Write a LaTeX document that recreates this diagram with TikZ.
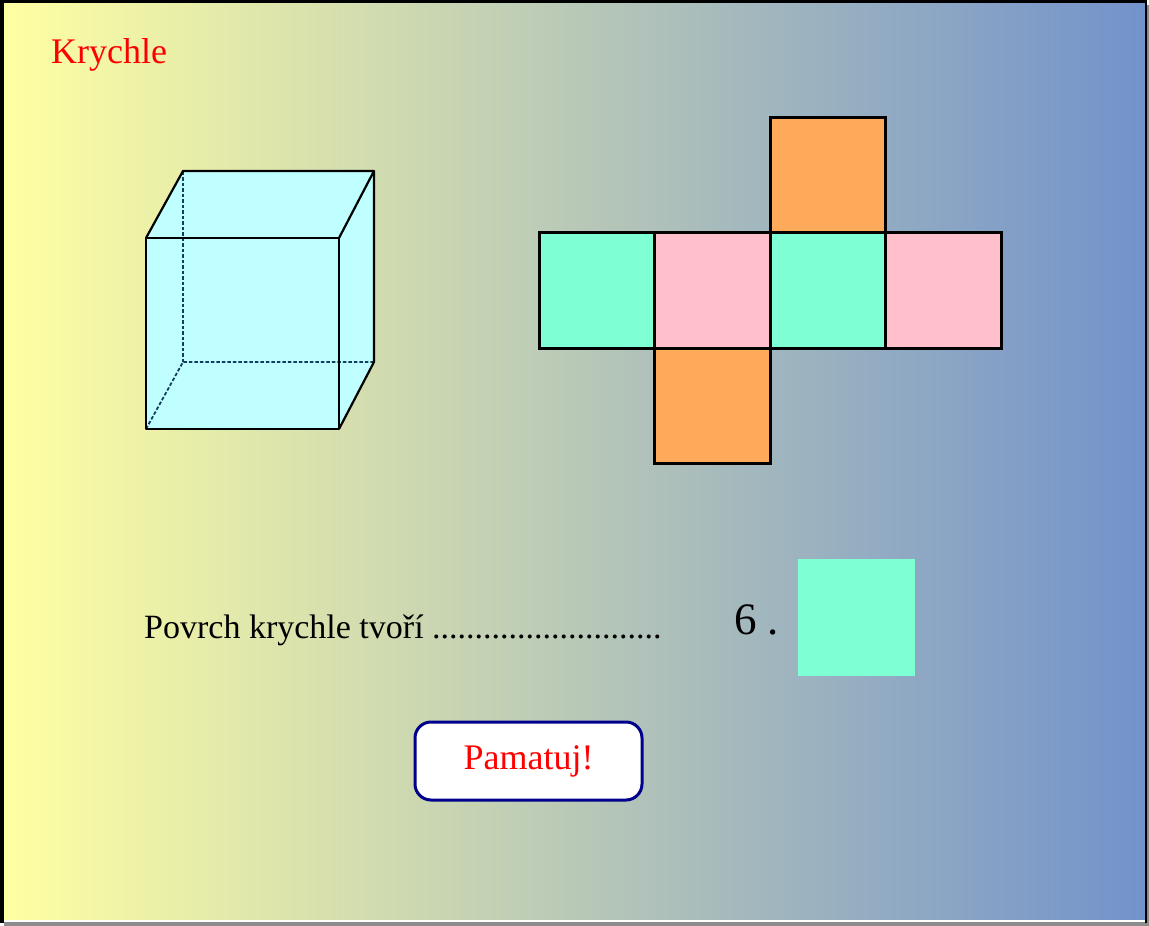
\documentclass[tikz,border=0pt]{standalone}
\usepackage{fontspec}
\setmainfont{Liberation Serif}
\usetikzlibrary{positioning}
\definecolor{bgleft}{RGB}{255,255,162}
\definecolor{bgright}{RGB}{114,146,204}
\definecolor{aqua}{RGB}{127,255,212}
\definecolor{rose}{RGB}{255,192,203}
\definecolor{peach}{RGB}{255,170,90}
\definecolor{glass}{RGB}{191,255,255}
\definecolor{hidden}{RGB}{20,60,95}
\definecolor{navy}{RGB}{0,0,140}
\tikzset{
	x=1pt, y=-1pt,
	face/.style={
		rectangle,
		draw=black,
		line width=3pt,
		minimum size=115.5pt,
		inner sep=0pt,
		outer sep=0pt
	},
	edge/.style={line width=2.2pt, line join=round},
	hid/.style={hidden, line width=1.8pt, dash pattern=on 3.5pt off 2pt},
	title/.style={text=red, font=\fontsize{36}{40}\selectfont, inner sep=0pt, anchor=base west}
}
\begin{document}
\begin{tikzpicture}
		\useasboundingbox (0,0) rectangle (1149,926);

		% frame
		\fill[gray!90] (4,5) rectangle (1149,926);
		\shade[left color=bgleft, right color=bgright] (2,1.5) rectangle (1146,921.5);
		\draw[white, line width=1.5pt] (4,921) -- (1145,921);
		\draw[black, line width=4pt] (2,923) -- (2,1.5);
		\draw[black, line width=3pt] (0,1.5) -- (1147,1.5);
		\draw[black, line width=2pt] (1146,0) -- (1146,923);

		\node[title] (title) at (51,63) {Krychle};

		% cube
		\coordinate (a) at (146,429);
		\coordinate (b) at (339,429);
		\coordinate (c) at (339,238);
		\coordinate (d) at (146,238);
		\coordinate (e) at (183,362);
		\coordinate (f) at (374,362);
		\coordinate (g) at (374,171);
		\coordinate (h) at (183,171);
		\fill[glass] (a) -- (b) -- (f) -- (g) -- (h) -- (d) -- cycle;
		\draw[hid] (a) -- (e) -- (f);
		\draw[hid] (e) -- (h);
		\draw[edge] (a) rectangle (c);
		\draw[edge] (d) -- (h) -- (g) -- (c);
		\draw[edge] (g) -- (f) -- (b);

		% net
		\node[face, fill=aqua] (n1) at (597,290.5) {};
		\node[face, fill=rose, right=0pt of n1] (n2) {};
		\node[face, fill=aqua, right=0pt of n2] (n3) {};
		\node[face, fill=rose, right=0pt of n3] (n4) {};
		\node[face, fill=peach, above=0pt of n3] (top) {};
		\node[face, fill=peach, below=0pt of n2] (bottom) {};

		\node[anchor=base west, inner sep=0pt, font=\fontsize{34}{38}\selectfont] (surface) at (144,638) {Povrch krychle tvoří ...........................};
		\node[anchor=base west, inner sep=0pt, font=\fontsize{45}{48}\selectfont] (six) at (734,634) {6 .};
		\node[face, draw=none, fill=aqua, minimum size=117pt] (square) at (856.5,617.5) {};

		\node[draw=navy, line width=3pt, fill=white, rounded corners=16pt, minimum width=227pt, minimum height=78pt, text=red, font=\fontsize{36}{40}\selectfont] (remember) at (528.5,761) {Pamatuj!};
	\end{tikzpicture}
\end{document}
